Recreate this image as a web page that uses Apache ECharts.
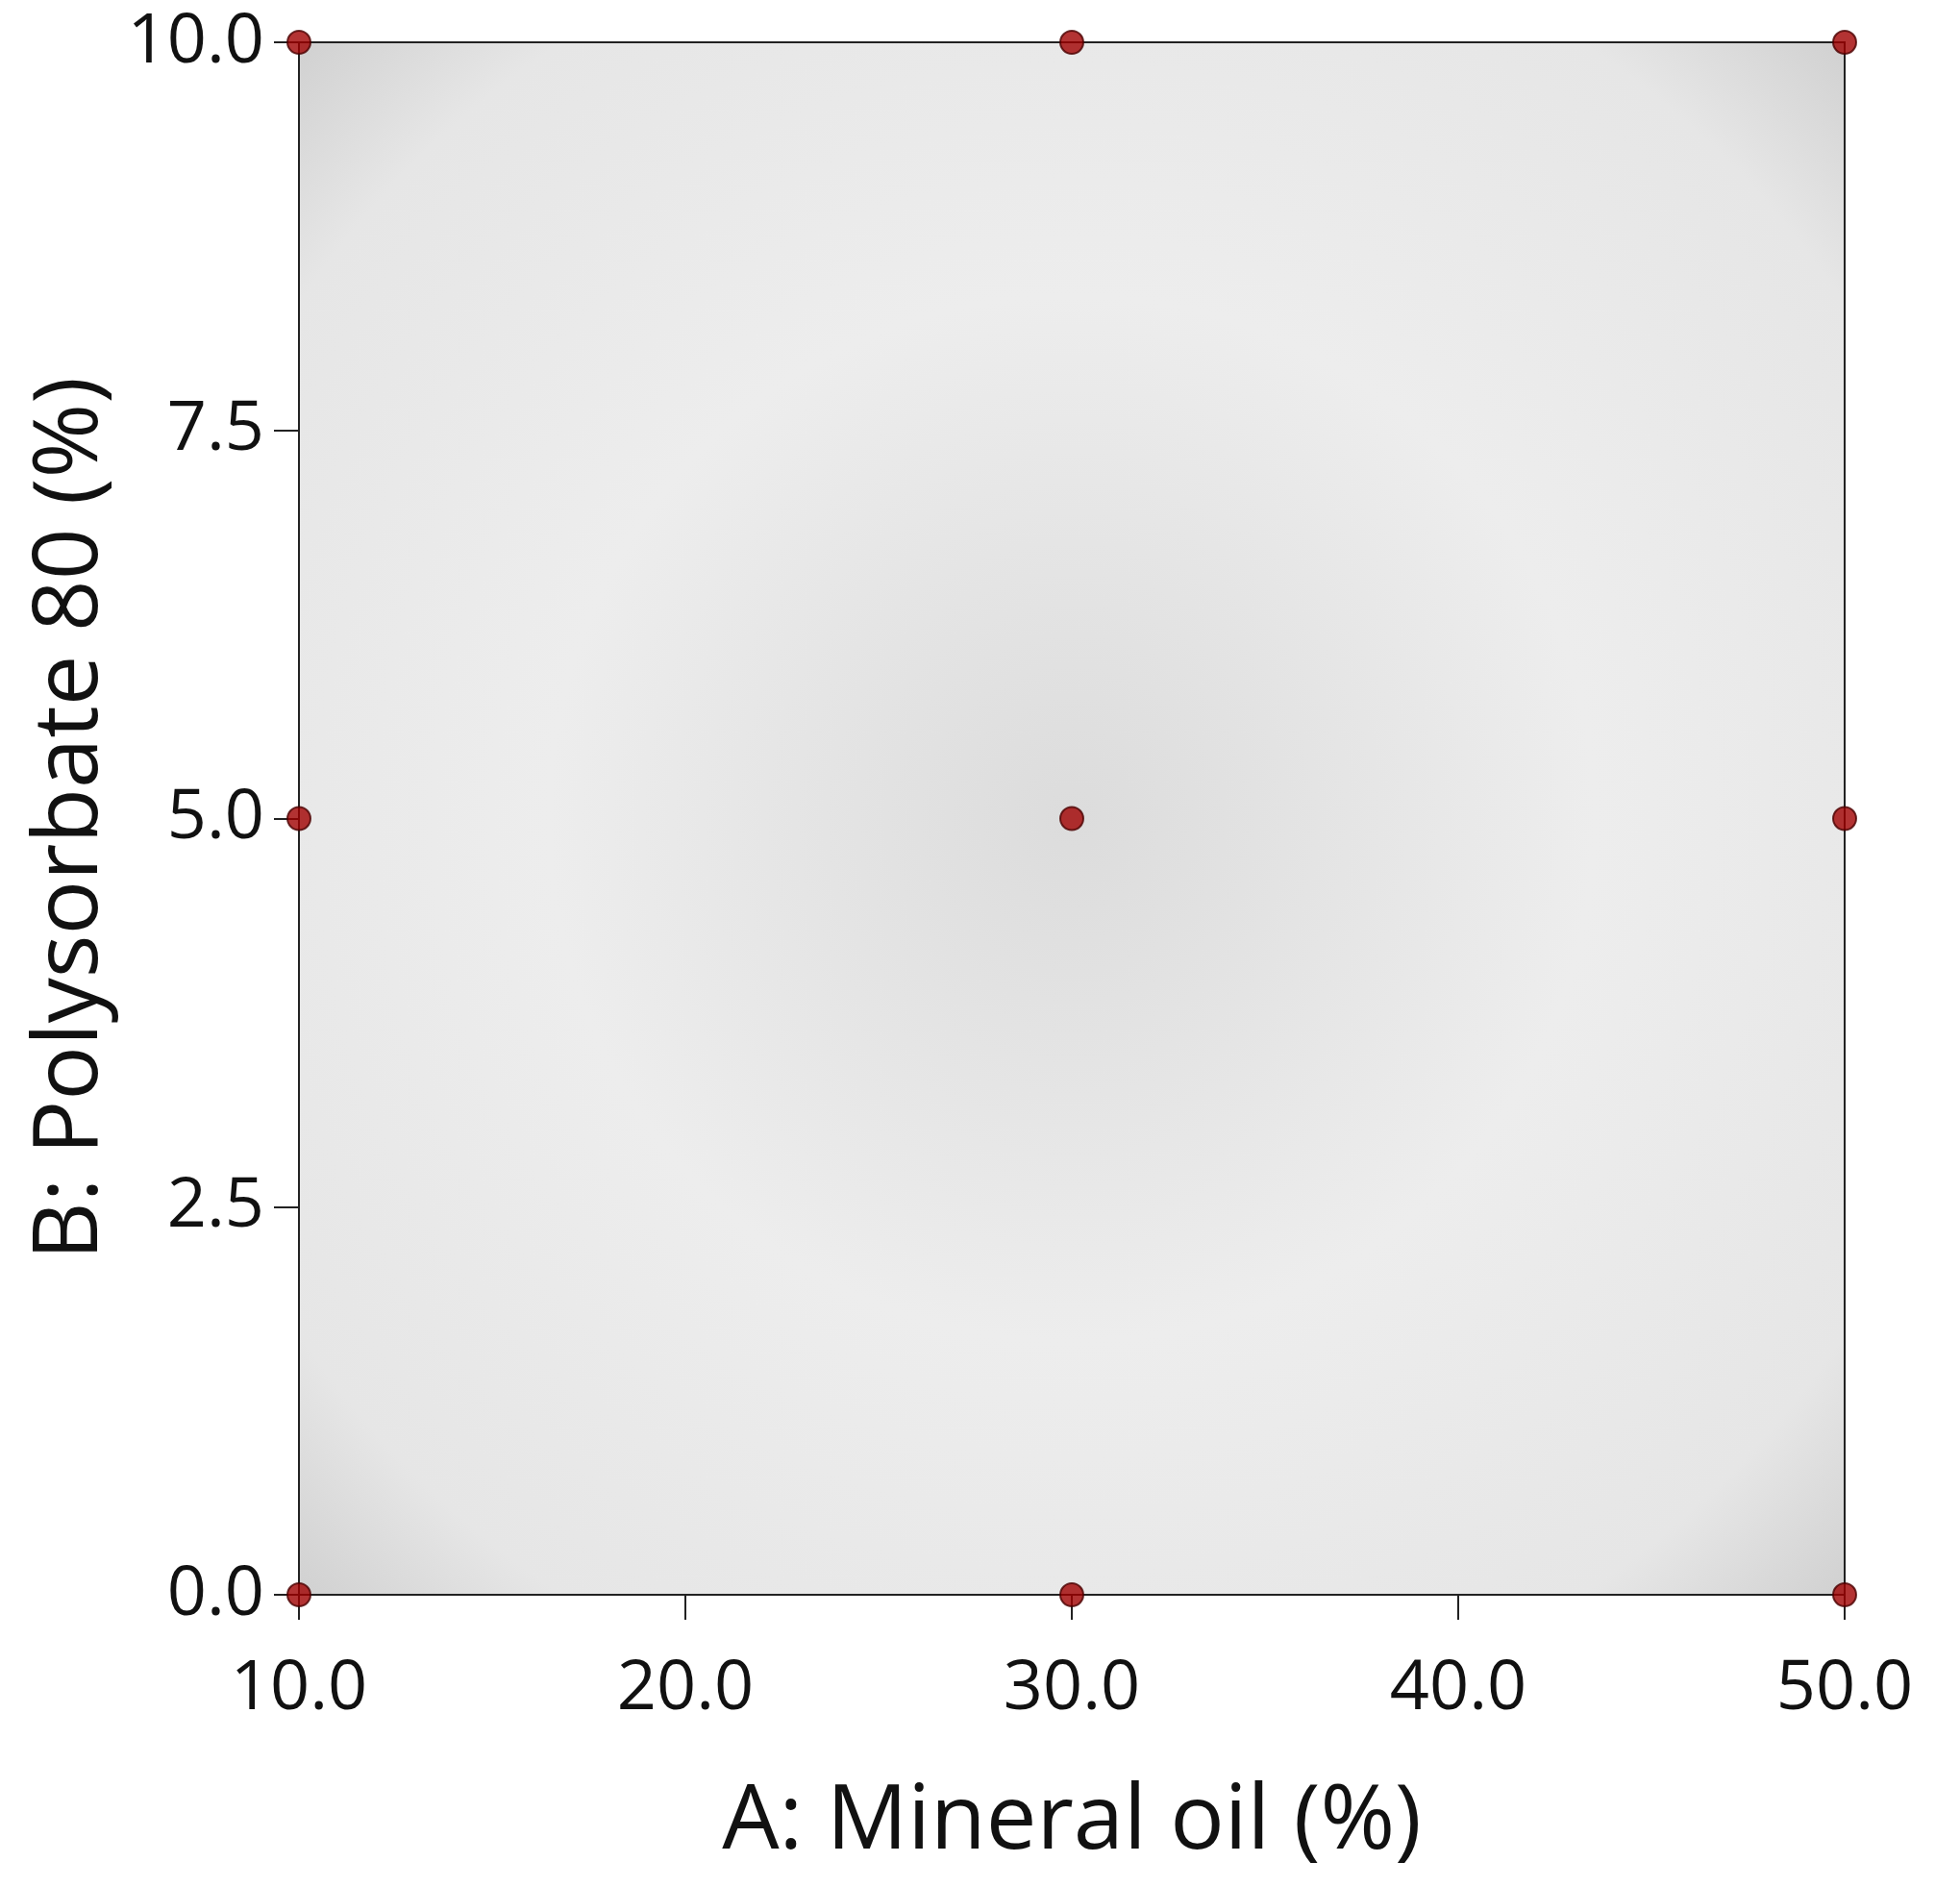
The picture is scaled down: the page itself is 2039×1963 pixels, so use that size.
<!DOCTYPE html>
<html>
<head>
<meta charset="utf-8">
<script src="https://cdn.jsdelivr.net/npm/echarts@6/dist/echarts.min.js"></script>
<style>html,body{margin:0;padding:0;background:#fff}#chart{width:2039px;height:1963px}</style>
</head>
<body>
<div id="chart"></div>
<script>
(function() {
    // design points: A mineral oil (%), B polysorbate 80 (%)
    var mineralOil = [10, 30, 50, 10, 30, 50, 10, 30, 50];
    var polysorbate = [0, 0, 0, 5, 5, 5, 10, 10, 10];
    var xTicks = [10, 20, 30, 40, 50];
    var yTicks = [0, 2.5, 5, 7.5, 10];

    var points = mineralOil.map(function(a, i) { return [a, polysorbate[i]]; });
    var font = '"Open Sans", "Noto Sans", sans-serif';

    var chart = echarts.init(document.getElementById('chart'));
    var option = {
        backgroundColor: '#fff',
        grid: {
            left: 311, right: 120, top: 44, bottom: 304,
            show: true,
            borderColor: '#222',
            borderWidth: 2,
            backgroundColor: {
                type: 'radial', x: 0.5, y: 0.5, r: 0.75,
                colorStops: [
                    {offset: 0, color: '#dcdcdc'},
                    {offset: 0.45, color: '#ededed'},
                    {offset: 0.8, color: '#e6e6e6'},
                    {offset: 1, color: '#c8c8c8'}
                ]
            }
        },
        xAxis: {
            type: 'value', min: 10, max: 50, interval: 10,
            name: 'A: Mineral oil (%)', nameLocation: 'middle', nameGap: 190,
            nameTextStyle: {fontSize: 94, color: '#111', fontFamily: font},
            axisLine: {show: true, lineStyle: {color: '#222', width: 2}},
            axisTick: {show: true, inside: false, length: 26, lineStyle: {color: '#222', width: 2}},
            axisLabel: {fontSize: 72, color: '#111', fontFamily: font, margin: 62,
                formatter: function(v) { return xTicks.indexOf(v) >= 0 ? v.toFixed(1) : ''; }},
            splitLine: {show: false}
        },
        yAxis: {
            type: 'value', min: 0, max: 10, interval: 2.5,
            name: 'B: Polysorbate 80 (%)', nameLocation: 'middle', nameGap: 180,
            nameTextStyle: {fontSize: 94, color: '#111', fontFamily: font},
            axisLine: {show: true, lineStyle: {color: '#222', width: 2}},
            axisTick: {show: true, inside: false, length: 26, lineStyle: {color: '#222', width: 2}},
            axisLabel: {fontSize: 72, color: '#111', fontFamily: font, margin: 36,
                formatter: function(v) { return yTicks.indexOf(v) >= 0 ? v.toFixed(1) : ''; }},
            splitLine: {show: false}
        },
        series: [{
            type: 'scatter',
            data: points,
            symbolSize: 24,
            clip: false,
            itemStyle: {color: '#a00000', borderColor: '#4a0000', borderWidth: 2}
        }]
    };
    chart.setOption(option);
})();
</script>
</body>
</html>
